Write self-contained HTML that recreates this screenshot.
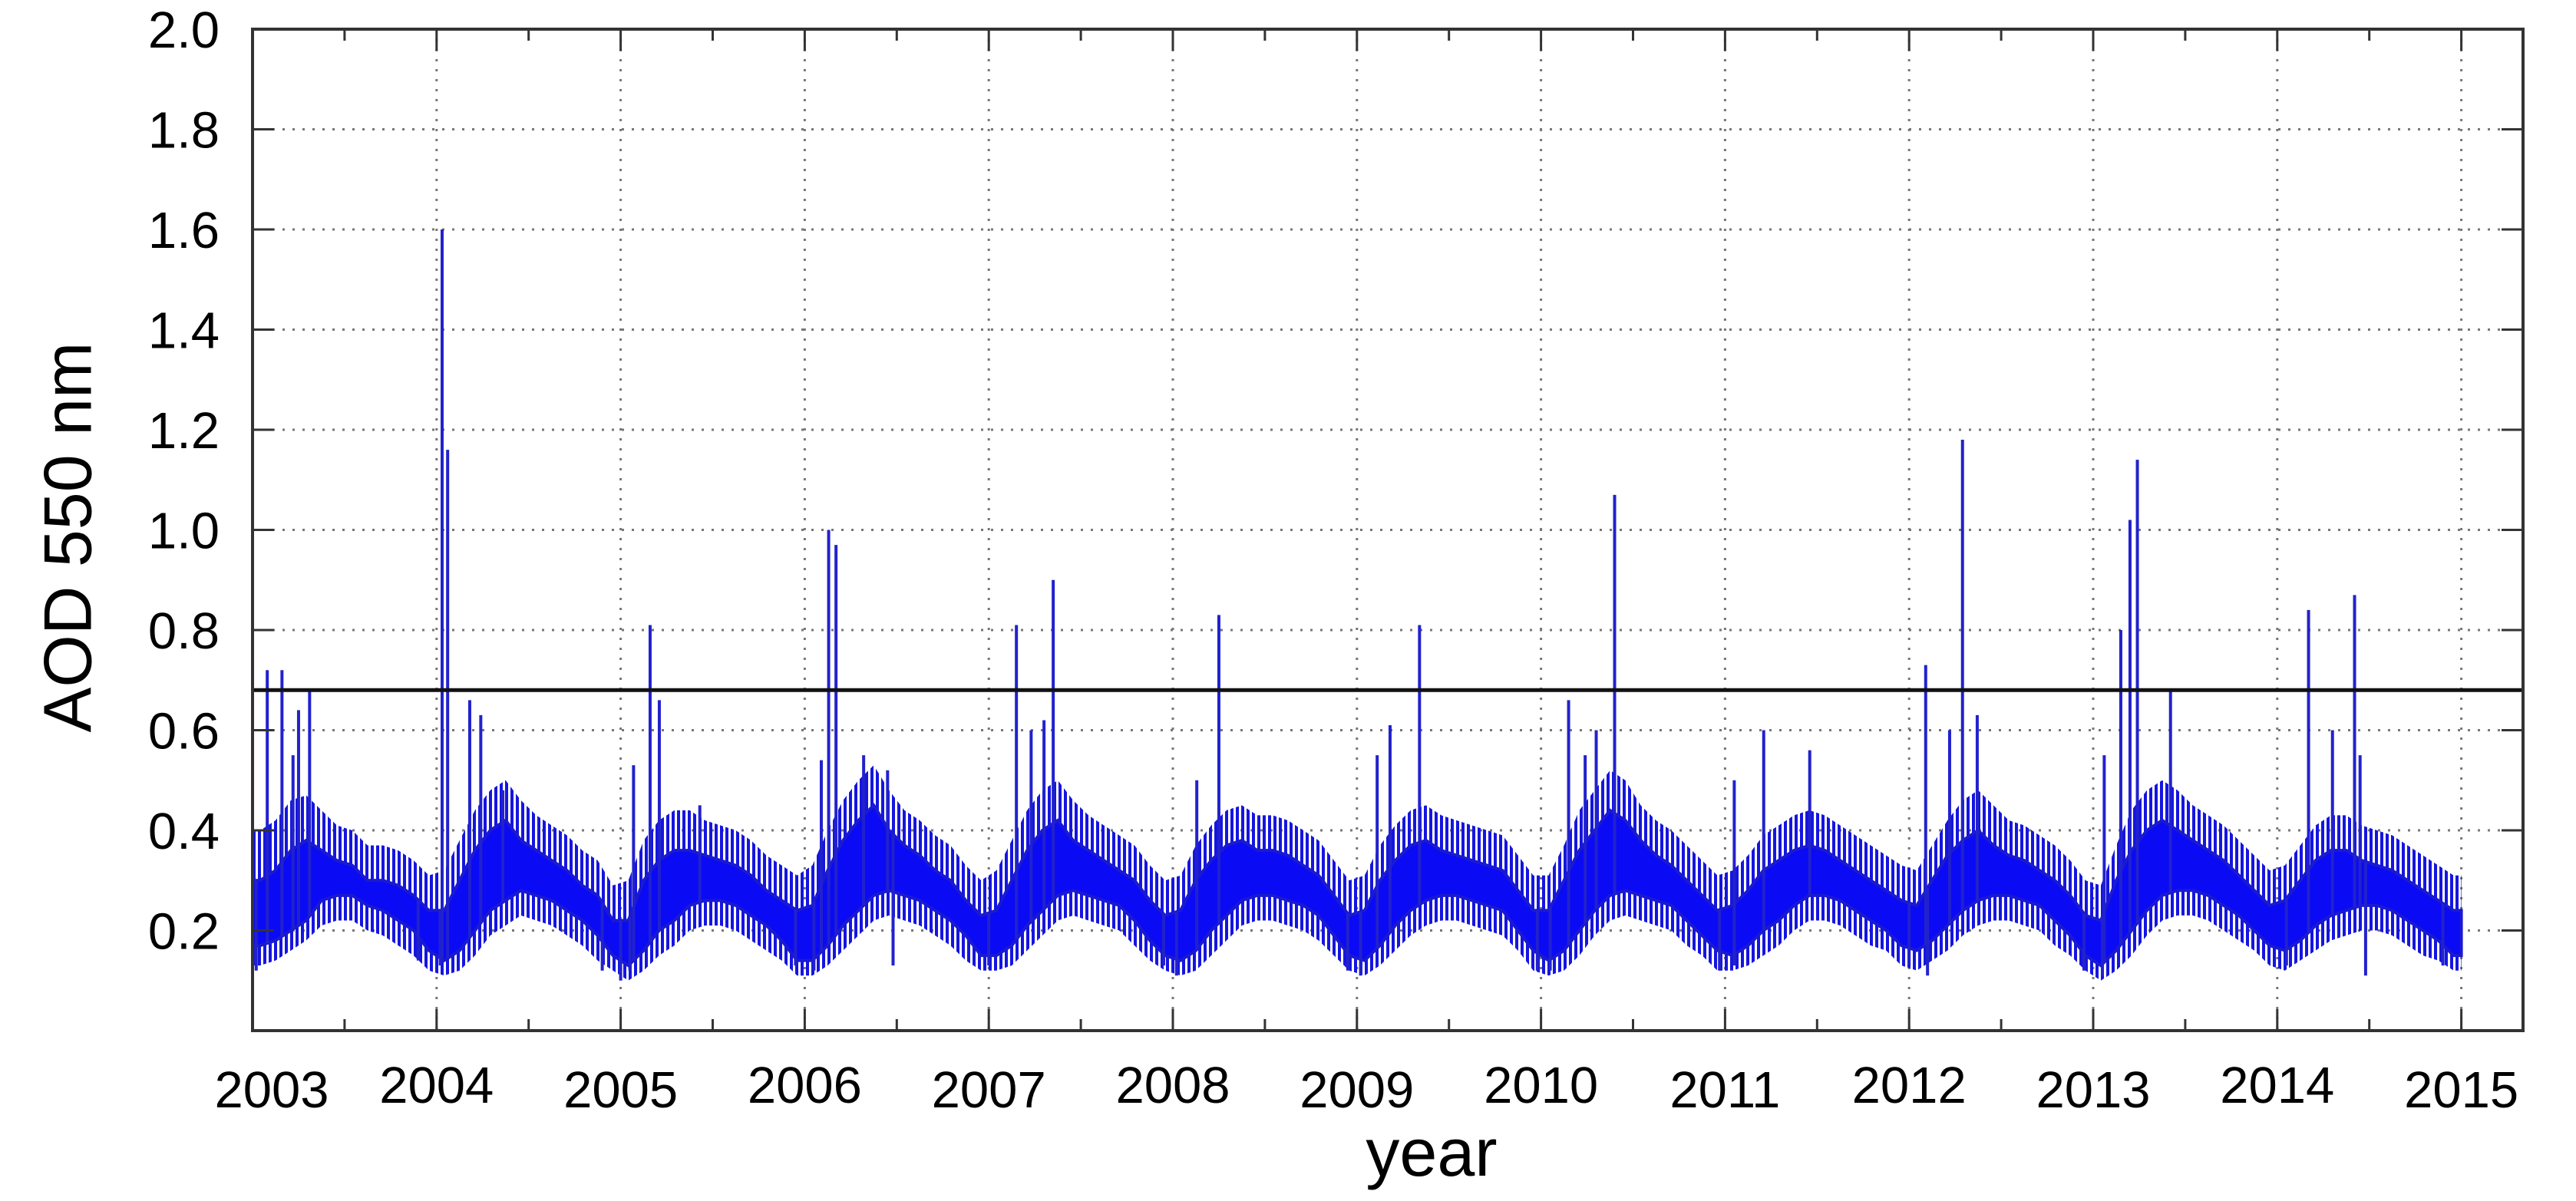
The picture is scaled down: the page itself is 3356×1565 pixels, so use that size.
<!DOCTYPE html>
<html><head><meta charset="utf-8"><style>
html,body{margin:0;padding:0;background:#fff;}
svg{display:block;font-family:"Liberation Sans",sans-serif;}
</style></head><body>
<svg id="chart" width="3356" height="1565" viewBox="0 0 3356 1565" xmlns="http://www.w3.org/2000/svg">
<defs>
<pattern id="hatch" width="7" height="10" patternUnits="userSpaceOnUse">
<rect x="0" y="0" width="4" height="10" fill="#1515e0"/>
</pattern>
</defs>
<rect x="0" y="0" width="3356" height="1565" fill="#fff"/>
<g id="grid"></g>
<g id="series"></g>
<g id="axes"></g>
<text x="88" y="700" font-size="88" text-anchor="middle" transform="rotate(-90 88 700)" dominant-baseline="central">AOD 550 nm</text>
<text x="1865" y="1532" font-size="88" text-anchor="middle">year</text>
</svg>
<script>
const yTicks = [0.2,0.4,0.6,0.8,1.0,1.2,1.4,1.6,1.8,2.0];
const yTickLabels = ["0.2","0.4","0.6","0.8","1.0","1.2","1.4","1.6","1.8","2.0"];
const years = [2003,2004,2005,2006,2007,2008,2009,2010,2011,2012,2013,2014,2015];
const thresholdValue = 0.68;
// monthly dense-core envelope (low / high) Jan 2003 .. Dec 2014
const monthlyLow = [
0.17,0.18,0.20,0.22,0.26,0.27,0.27,0.25,0.24,0.22,0.20,0.16,
0.14,0.16,0.20,0.24,0.26,0.28,0.27,0.26,0.24,0.22,0.19,0.15,
0.13,0.16,0.20,0.22,0.25,0.26,0.26,0.25,0.23,0.21,0.18,0.14,
0.14,0.17,0.21,0.24,0.27,0.28,0.27,0.26,0.24,0.22,0.19,0.15,
0.15,0.17,0.21,0.24,0.27,0.28,0.27,0.26,0.25,0.22,0.18,0.15,
0.14,0.16,0.20,0.23,0.26,0.27,0.27,0.26,0.25,0.23,0.19,0.15,
0.14,0.17,0.21,0.24,0.26,0.27,0.27,0.26,0.25,0.24,0.20,0.16,
0.14,0.16,0.20,0.24,0.27,0.28,0.27,0.26,0.25,0.22,0.19,0.16,
0.15,0.17,0.20,0.22,0.25,0.27,0.27,0.26,0.24,0.22,0.20,0.17,
0.16,0.18,0.21,0.24,0.26,0.27,0.27,0.26,0.25,0.22,0.19,0.15,
0.13,0.16,0.20,0.24,0.27,0.28,0.28,0.27,0.25,0.23,0.20,0.17,
0.16,0.18,0.21,0.23,0.24,0.25,0.25,0.24,0.22,0.20,0.18,0.15];
const monthlyHigh = [
0.30,0.32,0.36,0.38,0.36,0.34,0.33,0.30,0.30,0.29,0.27,0.24,
0.24,0.30,0.36,0.40,0.42,0.38,0.36,0.34,0.32,0.29,0.27,0.22,
0.22,0.30,0.34,0.36,0.36,0.35,0.34,0.33,0.31,0.28,0.26,0.24,
0.25,0.32,0.38,0.42,0.45,0.40,0.37,0.35,0.32,0.30,0.26,0.23,
0.24,0.30,0.36,0.40,0.42,0.38,0.36,0.34,0.32,0.30,0.26,0.23,
0.24,0.30,0.34,0.37,0.38,0.36,0.36,0.35,0.33,0.31,0.27,0.23,
0.24,0.30,0.34,0.37,0.38,0.36,0.35,0.34,0.33,0.32,0.28,0.24,
0.24,0.30,0.36,0.40,0.44,0.42,0.38,0.35,0.33,0.30,0.27,0.24,
0.25,0.28,0.32,0.34,0.36,0.37,0.36,0.34,0.32,0.30,0.28,0.26,
0.25,0.30,0.35,0.38,0.40,0.37,0.35,0.34,0.32,0.30,0.27,0.23,
0.22,0.30,0.36,0.40,0.42,0.40,0.38,0.36,0.34,0.31,0.28,0.25,
0.26,0.30,0.34,0.36,0.36,0.34,0.33,0.32,0.30,0.28,0.26,0.24];
// monthly sparse outer envelope (thin daily excursions)
const outerLow = [
0.13,0.14,0.16,0.18,0.21,0.22,0.22,0.20,0.19,0.17,0.15,0.12,
0.11,0.12,0.15,0.19,0.21,0.23,0.22,0.21,0.19,0.17,0.14,0.12,
0.10,0.12,0.15,0.17,0.20,0.21,0.21,0.20,0.18,0.16,0.14,0.11,
0.11,0.13,0.16,0.19,0.22,0.23,0.22,0.21,0.19,0.17,0.14,0.12,
0.12,0.13,0.16,0.19,0.22,0.23,0.22,0.21,0.20,0.17,0.14,0.12,
0.11,0.12,0.15,0.18,0.21,0.22,0.22,0.21,0.20,0.18,0.15,0.12,
0.11,0.13,0.16,0.19,0.21,0.22,0.22,0.21,0.20,0.19,0.16,0.12,
0.11,0.12,0.15,0.19,0.22,0.23,0.22,0.21,0.20,0.17,0.15,0.12,
0.12,0.13,0.15,0.17,0.20,0.22,0.22,0.21,0.19,0.17,0.16,0.13,
0.12,0.14,0.16,0.19,0.21,0.22,0.22,0.21,0.20,0.17,0.15,0.12,
0.10,0.12,0.15,0.19,0.22,0.23,0.23,0.22,0.20,0.18,0.16,0.13,
0.12,0.14,0.16,0.18,0.19,0.20,0.20,0.19,0.17,0.15,0.14,0.12];
const outerHigh = [
0.40,0.42,0.46,0.47,0.44,0.41,0.40,0.37,0.37,0.36,0.34,0.31,
0.32,0.38,0.44,0.48,0.50,0.46,0.43,0.41,0.39,0.36,0.34,0.29,
0.30,0.38,0.42,0.44,0.44,0.42,0.41,0.40,0.38,0.35,0.33,0.31,
0.33,0.40,0.46,0.50,0.53,0.48,0.44,0.42,0.39,0.37,0.33,0.30,
0.32,0.38,0.44,0.48,0.50,0.46,0.43,0.41,0.39,0.37,0.33,0.30,
0.31,0.37,0.41,0.44,0.45,0.43,0.43,0.42,0.40,0.38,0.34,0.30,
0.31,0.37,0.41,0.44,0.45,0.43,0.42,0.41,0.40,0.39,0.35,0.31,
0.31,0.37,0.44,0.48,0.52,0.50,0.45,0.42,0.40,0.37,0.34,0.31,
0.32,0.35,0.39,0.41,0.43,0.44,0.43,0.41,0.39,0.37,0.35,0.33,
0.32,0.37,0.42,0.46,0.48,0.45,0.42,0.41,0.39,0.37,0.34,0.30,
0.29,0.37,0.44,0.48,0.50,0.48,0.45,0.43,0.41,0.38,0.35,0.32,
0.33,0.37,0.41,0.43,0.43,0.41,0.40,0.39,0.37,0.35,0.33,0.31];
const spikeTimes = [2003.08,2003.16,2003.22,2003.25,2003.31,2004.03,2004.06,2004.18,2004.24,2004.36,
2005.07,2005.16,2005.21,2005.43,2006.09,2006.13,2006.17,2006.32,2006.45,2007.15,2007.23,2007.30,2007.35,
2008.13,2008.25,2009.11,2009.18,2009.34,2010.15,2010.24,2010.30,2010.40,2011.05,2011.21,2011.46,
2012.09,2012.22,2012.29,2012.37,2013.06,2013.15,2013.20,2013.24,2013.42,2014.17,2014.30,2014.42,2014.45];
const spikeValues = [0.72,0.72,0.55,0.64,0.68,1.60,1.16,0.66,0.63,0.48,
0.53,0.81,0.66,0.45,0.54,1.00,0.97,0.55,0.52,0.81,0.60,0.62,0.90,
0.50,0.83,0.55,0.61,0.81,0.66,0.55,0.60,1.07,0.50,0.60,0.56,
0.73,0.60,1.18,0.63,0.55,0.80,1.02,1.14,0.68,0.84,0.60,0.87,0.55];
const dipTimes = [2003.02,2003.9,2004.02,2004.9,2005.0,2005.05,2005.95,2006.05,2006.48,2007.0,2007.95,2008.02,2008.95,2009.02,2009.98,2010.05,2010.97,2011.05,2012.0,2012.1,2012.95,2013.05,2014.05,2014.48,2014.9];
const dipValues = [0.12,0.14,0.13,0.12,0.10,0.12,0.13,0.12,0.13,0.13,0.13,0.11,0.12,0.11,0.12,0.12,0.12,0.13,0.13,0.11,0.12,0.11,0.13,0.11,0.13];

const NS="http://www.w3.org/2000/svg";
const X0=329, X1=3287, Y0=38, Y1=1343, YEARPX=239.8;
function xs(t){return X0+(t-2003)*YEARPX;}
function ys(v){return Y1-(v/2.0)*(Y1-Y0);}
function mk(tag,attrs,parent){const e=document.createElementNS(NS,tag);for(const k in attrs)e.setAttribute(k,attrs[k]);parent.appendChild(e);return e;}
const grid=document.getElementById('grid'), series=document.getElementById('series'), axes=document.getElementById('axes');

yTicks.forEach((v,i)=>{
  if(v<2.0){
    const g=mk('line',{x1:X0,x2:X1,y1:ys(v),y2:ys(v),stroke:'#777','stroke-width':3,'stroke-dasharray':'3 10'},grid);
    
    
  }
  const t1=mk('line',{x1:X0,x2:X0+28,y1:ys(v),y2:ys(v),stroke:'#333','stroke-width':3},axes);
  
  
  const t2=mk('line',{x1:X1-28,x2:X1,y1:ys(v),y2:ys(v),stroke:'#333','stroke-width':3},axes);
  
  
  const lb=mk('text',{x:286,y:ys(v)+24,'font-size':67,'text-anchor':'end'},axes);
  lb.textContent=yTickLabels[i];
  
  
});
years.forEach((yr,i)=>{
  const x=xs(yr);
  if(yr>2003){
    const g=mk('line',{x1:x,x2:x,y1:Y0,y2:Y1,stroke:'#777','stroke-width':3,'stroke-dasharray':'3 10'},grid);
    
    
  }
  const tb=mk('line',{x1:x,x2:x,y1:Y1,y2:Y1-28,stroke:'#333','stroke-width':3},axes);
  
  
  const tt=mk('line',{x1:x,x2:x,y1:Y0,y2:Y0+28,stroke:'#333','stroke-width':3},axes);
  
  
  const xm=xs(yr+0.5);
  if(xm<X1){
    const m1=mk('line',{x1:xm,x2:xm,y1:Y1,y2:Y1-15,stroke:'#333','stroke-width':3},axes);
    
    
    const m2=mk('line',{x1:xm,x2:xm,y1:Y0,y2:Y0+15,stroke:'#333','stroke-width':3},axes);
    
    
  }
  const lb=mk('text',{x:x+(i===0?25:0),y:(i%2===0?1443:1437),'font-size':67,'text-anchor':'middle'},axes);
  lb.textContent=String(yr);
  
  
});

const n=monthlyHigh.length;
function envelope(hi,lo){
  let pts=[];
  pts.push(xs(2003)+','+ys(hi[0]));
  for(let i=0;i<n;i++){pts.push(xs(2003+(i+0.5)/12)+','+ys(hi[i]));}
  pts.push(xs(2003+n/12)+','+ys(hi[n-1]));
  pts.push(xs(2003+n/12)+','+ys(lo[n-1]));
  for(let i=n-1;i>=0;i--){pts.push(xs(2003+(i+0.5)/12)+','+ys(lo[i]));}
  pts.push(xs(2003)+','+ys(lo[0]));
  return pts.join(' ');
}
const outer=mk('polygon',{points:envelope(outerHigh,outerLow),fill:'url(#hatch)'},series);


const band=mk('polygon',{points:envelope(monthlyHigh,monthlyLow),fill:'#0a0af5',stroke:'#1a1ad0','stroke-width':4},series);



function bandAt(arr,t){const f=(t-2003)*12-0.5;const i=Math.max(0,Math.min(n-1,Math.floor(f)));const j=Math.min(n-1,i+1);const w=Math.max(0,Math.min(1,f-i));return arr[i]*(1-w)+arr[j]*w;}
spikeTimes.forEach((t,i)=>{
  const x=xs(t);
  const s=mk('line',{x1:x,x2:x,y1:ys(bandAt(monthlyLow,t)),y2:ys(spikeValues[i]),stroke:'#2222cc','stroke-width':4},series);
  
  
});
dipTimes.forEach((t,i)=>{
  const x=xs(t);
  const s=mk('line',{x1:x,x2:x,y1:ys(bandAt(monthlyHigh,t)),y2:ys(dipValues[i]),stroke:'#2222cc','stroke-width':4},series);
  
  
});

const th=mk('line',{x1:X0,x2:X1,y1:ys(thresholdValue),y2:ys(thresholdValue),stroke:'#111','stroke-width':5},axes);


const frame=mk('rect',{x:X0,y:Y0,width:X1-X0,height:Y1-Y0,fill:'none',stroke:'#333','stroke-width':4},axes);


</script>
</body></html>
